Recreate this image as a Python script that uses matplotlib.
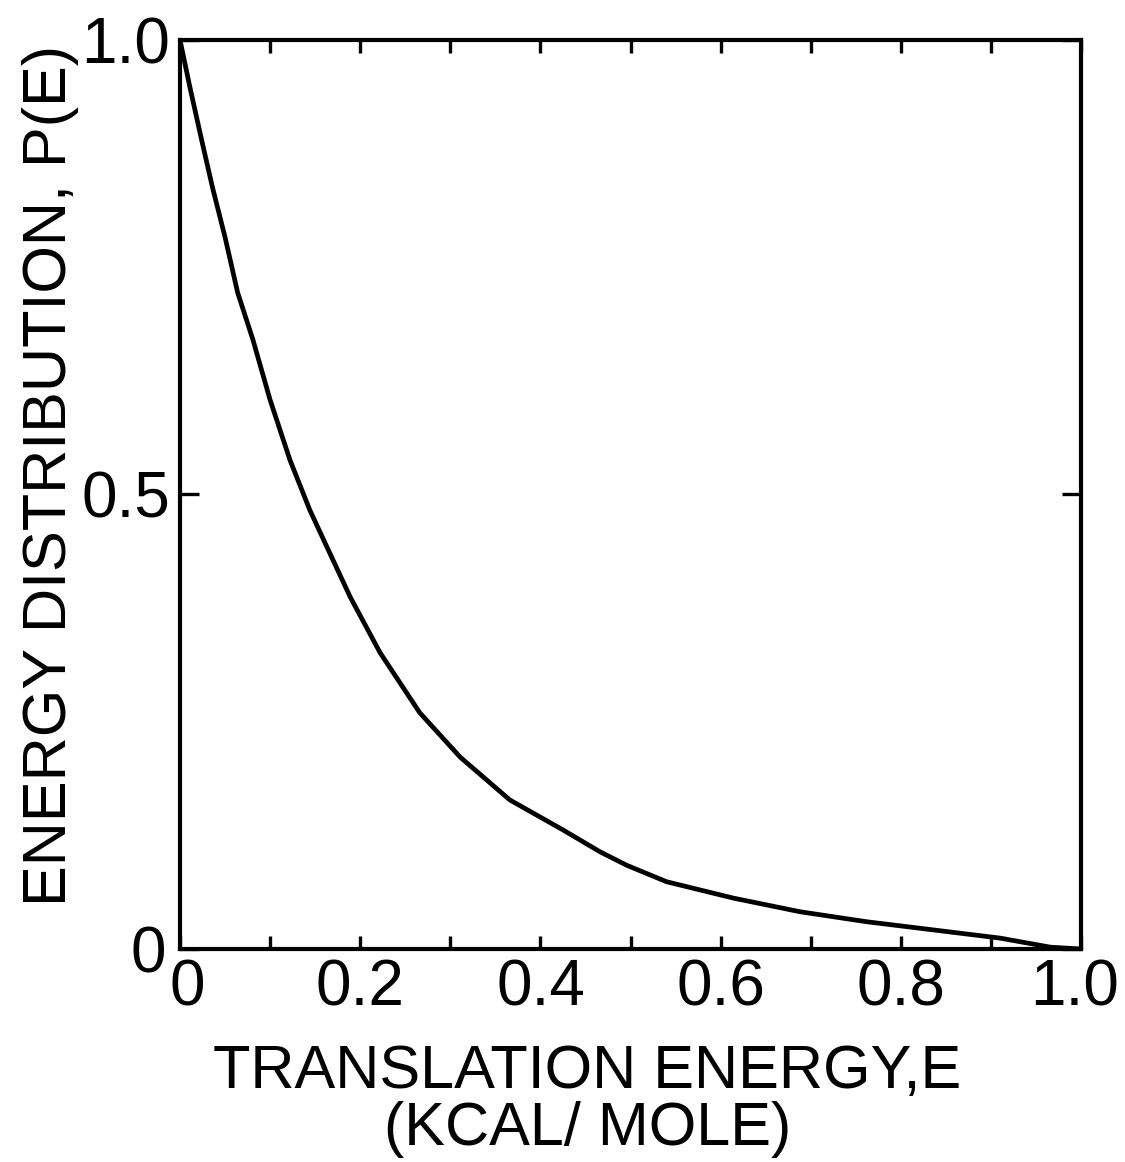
import numpy as np
import matplotlib
matplotlib.use("Agg")
import matplotlib.pyplot as plt
from matplotlib.transforms import ScaledTranslation

plt.rcParams['font.family'] = ['Liberation Sans', 'DejaVu Sans']

# curve
energy = [0.0, 0.011, 0.024, 0.036, 0.050, 0.064, 0.081, 0.100, 0.122, 0.144,
          0.166, 0.189, 0.222, 0.266, 0.311, 0.366, 0.425, 0.466, 0.496, 0.540,
          0.614, 0.688, 0.762, 0.836, 0.910, 0.966, 1.0]
prob = [1.0, 0.948, 0.890, 0.838, 0.783, 0.722, 0.670, 0.604, 0.538, 0.483,
        0.436, 0.387, 0.326, 0.260, 0.211, 0.164, 0.131, 0.107, 0.092, 0.074,
        0.056, 0.041, 0.030, 0.021, 0.012, 0.002, 0.0]

xticks = [0, 0.2, 0.4, 0.6, 0.8, 1.0]
xticklabels = ['0', '0.2', '0.4', '0.6', '0.8', '1.0']
xminor = [0.1, 0.3, 0.5, 0.7, 0.9]
yticks = [0, 0.5, 1.0]
yticklabels = ['0', '0.5', '1.0']

fig = plt.figure(figsize=(11.25, 11.62), dpi=100)
ax = fig.add_axes([0.16, 0.1833, 0.801, 0.7823])

ax.plot(energy, prob, color='black', lw=3.4, solid_capstyle='round',
        solid_joinstyle='round')

ax.set_xlim(0, 1.0)
ax.set_ylim(0, 1.0)

ax.set_xticks(xticks)
ax.set_xticklabels(xticklabels)
ax.set_xticks(xminor, minor=True)
ax.set_yticks(yticks)
ax.set_yticklabels(yticklabels)

ax.tick_params(axis='x', which='both', direction='in', top=True, bottom=True,
               length=9.5, width=2.4, labelsize=46, pad=6.5)
ax.tick_params(axis='y', which='both', direction='in', left=True, right=True,
               length=14, width=2.4, labelsize=46, pad=7)

for s in ax.spines.values():
    s.set_linewidth(3)

# nudge corner labels apart like in the original lettering
def nudge(lbl, dx):
    lbl.set_transform(lbl.get_transform() + ScaledTranslation(dx / 72, 0, fig.dpi_scale_trans))

xl = ax.get_xticklabels()
nudge(xl[0], 5)
nudge(xl[-1], -5)
nudge(ax.get_yticklabels()[0], -3)

ax.set_xlabel('TRANSLATION ENERGY,E\n(KCAL/ MOLE)', fontsize=44,
              linespacing=1.0)
ax.xaxis.set_label_coords(0.452, -0.104)
ax.set_ylabel('ENERGY DISTRIBUTION, P(E)', fontsize=44)
ax.yaxis.set_label_coords(-0.112, 0.521)

fig.savefig('out.png', dpi=100, facecolor='white')
